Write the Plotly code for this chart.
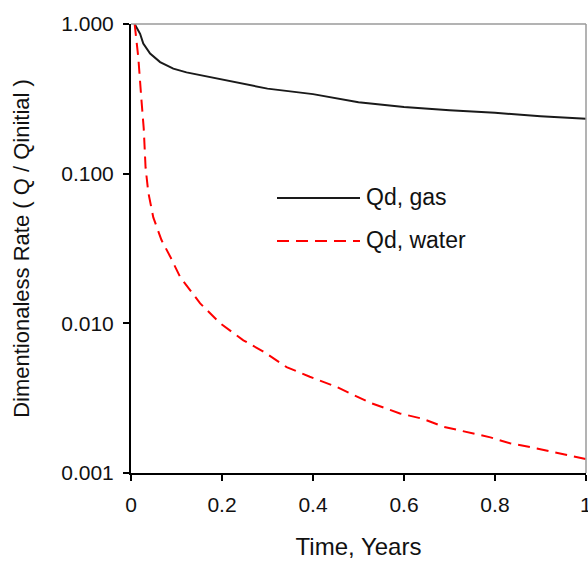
import plotly.graph_objects as go

# Data
time_gas = [0.008, 0.02, 0.027, 0.042, 0.064, 0.093, 0.122, 0.152, 0.2, 0.3, 0.4, 0.5, 0.6, 0.7, 0.8, 0.9, 1.0]
qd_gas = [1.0, 0.86, 0.74, 0.634, 0.557, 0.503, 0.475, 0.455, 0.425, 0.37, 0.34, 0.30, 0.279, 0.265, 0.255, 0.242, 0.233]

time_water = [0.008, 0.016, 0.023, 0.028, 0.032, 0.038, 0.049, 0.067, 0.086, 0.108, 0.152, 0.196, 0.247, 0.29,
              0.342, 0.393, 0.452, 0.525, 0.591, 0.642, 0.686, 0.737, 0.79, 0.833, 0.892, 1.0]
qd_water = [1.0, 0.60, 0.31, 0.20, 0.11, 0.075, 0.051, 0.036, 0.028, 0.0204, 0.0136, 0.0100, 0.0077, 0.0065,
            0.0051, 0.0044, 0.00376, 0.00295, 0.0025, 0.0023, 0.00204, 0.00188, 0.00173, 0.00158, 0.00146, 0.00124]

y_tickvals = [0.001, 0.01, 0.1, 1.0]
y_ticktext = ["0.001", "0.010", "0.100", "1.000"]
x_tickvals = [0, 0.2, 0.4, 0.6, 0.8, 1.0]
x_ticktext = ["0", "0.2", "0.4", "0.6", "0.8", "1"]

legend_names = ["Qd, gas", "Qd, water"]

FONT = "Liberation Sans, Arial, sans-serif"

fig = go.Figure()
fig.add_trace(go.Scatter(x=time_gas, y=qd_gas, mode="lines", name=legend_names[0],
                         line=dict(color="#1a1a1a", width=2), showlegend=False))
fig.add_trace(go.Scatter(x=time_water, y=qd_water, mode="lines", name=legend_names[1],
                         line=dict(color="#ff0000", width=2, dash="12px,7px"), showlegend=False))

W, H = 588, 562
L, R, T, B = 131, 2, 24, 89
pw, ph = W - L - R, H - T - B

def px_x(p):
    return (p - L) / pw

def px_y(p):
    return 1 - (p - T) / ph

shapes = [
    dict(type="line", xref="paper", yref="paper", x0=0, x1=1, y0=1, y1=1,
         line=dict(color="#9a9a9a", width=1.5)),
    dict(type="line", xref="paper", yref="paper", x0=1, x1=1, y0=0, y1=1,
         line=dict(color="#9a9a9a", width=1.5)),
    dict(type="line", xref="paper", yref="paper", x0=px_x(277), x1=px_x(360), y0=px_y(198), y1=px_y(198),
         line=dict(color="#1a1a1a", width=2)),
    dict(type="line", xref="paper", yref="paper", x0=px_x(277), x1=px_x(360), y0=px_y(241), y1=px_y(241),
         line=dict(color="#ff0000", width=2, dash="12px,7px")),
]
annotations = [
    dict(xref="paper", yref="paper", x=px_x(364), y=px_y(197), text=legend_names[0], showarrow=False,
         xanchor="left", yanchor="middle", font=dict(family=FONT, size=23, color="#111")),
    dict(xref="paper", yref="paper", x=px_x(364), y=px_y(240), text=legend_names[1], showarrow=False,
         xanchor="left", yanchor="middle", font=dict(family=FONT, size=23, color="#111")),
]

fig.update_layout(
    width=W, height=H,
    margin=dict(l=L, r=R, t=T, b=B),
    paper_bgcolor="white", plot_bgcolor="white",
    font=dict(family=FONT, size=21, color="#111"),
    shapes=shapes, annotations=annotations,
    xaxis=dict(range=[0, 1.0001], tickvals=x_tickvals, ticktext=x_ticktext, showgrid=False, zeroline=False,
               showline=True, linecolor="black", linewidth=2, ticks="outside", ticklen=6, tickwidth=1.5,
               tickcolor="black", ticklabelstandoff=6, ticklabeloverflow="allow", automargin=False,
               title=dict(text="Time, Years", font=dict(size=24), standoff=23)),
    yaxis=dict(type="log", range=[-3, 0], tickvals=y_tickvals, ticktext=y_ticktext, showgrid=False,
               zeroline=False, showline=True, linecolor="black", linewidth=2, ticks="outside", ticklen=6,
               tickwidth=1.5, tickcolor="black", ticklabelstandoff=5, automargin=False,
               title=dict(text="Dimentionaless Rate ( Q / Qinitial )", font=dict(size=22), standoff=26)),
)

fig.write_html("out.html")
